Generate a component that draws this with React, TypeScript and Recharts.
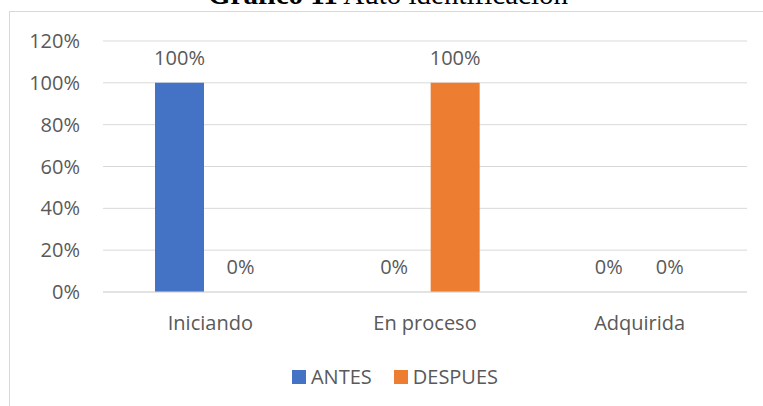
import React from "react";
import { Bar, BarChart, CartesianGrid, LabelList, Legend, XAxis, YAxis } from "recharts";

const categories = ["Iniciando", "En proceso", "Adquirida"];
const antes = [100, 0, 0];
const despues = [0, 100, 0];
const yTicks = [0, 20, 40, 60, 80, 100, 120];

const SERIES = [
  { key: "antes", name: "ANTES", color: "#4472C4" },
  { key: "despues", name: "DESPUES", color: "#ED7D31" },
];

const data = categories.map((c, i) => ({ name: c, antes: antes[i], despues: despues[i] }));

const FONT = "'Open Sans', sans-serif";
const TEXT = "#595959";

const renderLegend = () => (
  <div style={{ display: "flex", justifyContent: "center", alignItems: "center", fontFamily: FONT, fontSize: 20, color: TEXT }}>
    {SERIES.map((s, i) => (
      <div key={s.key} style={{ display: "flex", alignItems: "center", marginRight: i === 0 ? 22 : 0 }}>
        <span style={{ width: 14, height: 14, background: s.color, marginRight: 5, display: "inline-block" }} />
        <span>{s.name}</span>
      </div>
    ))}
  </div>
);

// draw the value label ourselves so 0% bars get one too
const renderValue = (props: any) => {
  const { x, y, width, value } = props;
  if (x == null || y == null) return null;
  return (
    <text x={Number(x) + Number(width) / 2} y={Number(y) - 18} textAnchor="middle" fill={TEXT} fontSize={20} fontFamily={FONT}>
      {`${value}%`}
    </text>
  );
};

export default function App() {
  return (
    <div style={{ position: "absolute", left: 0, top: 0, width: 763, height: 406, overflow: "hidden", background: "#fff" }}>
      <svg width={763} height={12} style={{ position: "absolute", left: 0, top: 0 }}>
        <text x={388} y={4} textAnchor="middle" fontFamily="'Liberation Serif', 'Times New Roman', serif" fontSize={29} fill="#000">
          <tspan fontWeight="bold">Gráfico 11</tspan>
          <tspan> Auto identificación</tspan>
        </text>
      </svg>
      <div style={{ position: "absolute", left: 9, top: 11, width: 772, height: 420, border: "1px solid #d9d9d9" }} />
      <div style={{ position: "absolute", left: 10, top: 12 }}>
        <BarChart width={771} height={394} data={data} margin={{ top: 29, right: 34, left: 0, bottom: 4 }} barSize={49} barGap={12}>
          <CartesianGrid vertical={false} stroke="#d9d9d9" />
          <XAxis
            dataKey="name"
            height={70}
            tickLine={false}
            axisLine={{ stroke: "#d9d9d9" }}
            tickMargin={18}
            tick={{ fill: TEXT, fontSize: 20, fontFamily: FONT }}
          />
          <YAxis
            width={93}
            domain={[0, 120]}
            ticks={yTicks}
            tickFormatter={(v: number) => `${v}%`}
            tickLine={false}
            axisLine={false}
            tickMargin={17}
            tick={{ fill: TEXT, fontSize: 20, fontFamily: FONT }}
          />
          <Legend verticalAlign="bottom" height={40} content={renderLegend} wrapperStyle={{ top: 351, left: 0, width: 770 }} />
          {SERIES.map((s) => (
            <Bar key={s.key} dataKey={s.key} name={s.name} fill={s.color} minPointSize={0.01} isAnimationActive={false}>
              <LabelList dataKey={s.key} content={renderValue} />
            </Bar>
          ))}
        </BarChart>
      </div>
    </div>
  );
}
